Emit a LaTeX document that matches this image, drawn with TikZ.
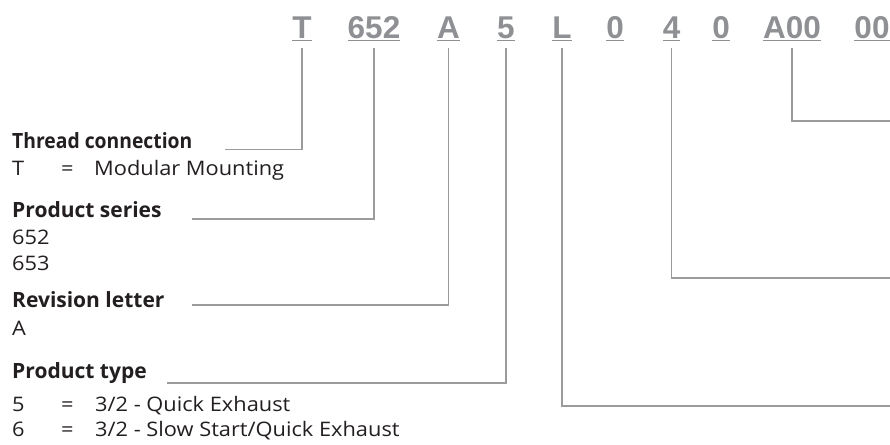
\documentclass[tikz,border=0pt]{standalone}
\usepackage{fontspec}
\setmainfont{Open Sans}
\newfontfamily\regfont{Open Sans}[FakeStretch=1.09]
\newfontfamily\tightfont{Open Sans}[FakeStretch=0.92]
\newfontfamily\codefont{Liberation Sans}
\definecolor{codegray}{RGB}{142,144,147}
\definecolor{linegray}{RGB}{155,155,155}
\definecolor{ink}{RGB}{35,31,32}
\tikzset{
  code/.style={font=\codefont\bfseries\fontsize{31.5}{31.5}\selectfont, text=codegray, inner sep=0pt, anchor=base},
  head/.style={font=\bfseries\fontsize{21}{21}\selectfont, text=ink, inner sep=0pt, anchor=base west},
  tighthead/.style={head, font=\tightfont\bfseries\fontsize{21}{21}\selectfont},
  body/.style={font=\regfont\fontsize{20}{20}\selectfont, text=ink, inner sep=0pt, anchor=base west},
  lead/.style={draw=linegray, line width=1.1pt},
  uline/.style={draw=codegray, line width=1pt}
}
\begin{document}
\begin{tikzpicture}[x=1pt,y=-1pt]
\fill[white] (0,0) rectangle (890,444);
\useasboundingbox (0,0) rectangle (890,444);

% code row
\node[code] (cT)   at (302,38.5) {T};
\node[code] (c652) at (374,38.5) {652};
\node[code] (cA)   at (448.5,38.5) {A};
\node[code] (c5)   at (506,38.5) {5};
\node[code] (cL)   at (562,38.5) {L};
\node[code] (c0a)  at (615,38.5) {0};
\node[code] (c4)   at (671.5,38.5) {4};
\node[code] (c0b)  at (721,38.5) {0};
\node[code] (cA00) at (792,38.5) {A00};
\node[code] (c00)  at (872,38.5) {00};
\foreach \n in {cT,c652,cA,c5,cL,c0a,c4,c0b,cA00,c00}
  \draw[uline] ([yshift=-2.5pt]\n.base west) -- ([yshift=-2.5pt]\n.base east);

% left labels
\node[tighthead] (hThread) at (12,148.5) {Thread connection};
\node[body] (tT1) at (12,175) {T};
\node[body] (tT2) at (61,175) {=};
\node[body] (tT3) at (94,175) {Modular Mounting};

\node[head] (hSeries) at (12,217) {Product series};
\node[body] (s1) at (12,244) {652};
\node[body] (s2) at (12,270) {653};

\node[head] (hRev) at (12,307.5) {Revision letter};
\node[body] (r1) at (12,335) {A};

\node[head] (hType) at (12,378) {Product type};
\node[body] (p1a) at (12,411.5) {5};
\node[body] (p1b) at (61,411.5) {=};
\node[body] (p1c) at (95,411.5) {3/2 - Quick Exhaust};
\node[body] (p2a) at (12,436.5) {6};
\node[body] (p2b) at (61,436.5) {=};
\node[body] (p2c) at (95,436.5) {3/2 - Slow Start/Quick Exhaust};

% leader end points
\coordinate (eT)   at (225,149.5);
\coordinate (e652) at (192,219);
\coordinate (eA)   at (192,305);
\coordinate (e5)   at (167,383);
\coordinate (eL)   at (890,406);
\coordinate (e4)   at (890,278);
\coordinate (eA00) at (890,121);

\draw[lead] ([yshift=-9.5pt]cT.base)   |- (eT);
\draw[lead] ([yshift=-9.5pt]c652.base) |- (e652);
\draw[lead] ([yshift=-9.5pt]cA.base)   |- (eA);
\draw[lead] ([yshift=-9.5pt]c5.base)   |- (e5);
\draw[lead] ([yshift=-9.5pt]cL.base)   |- (eL);
\draw[lead] ([yshift=-9.5pt]c4.base)   |- (e4);
\draw[lead] ([yshift=-9.5pt]cA00.base) |- (eA00);
\end{tikzpicture}
\end{document}
